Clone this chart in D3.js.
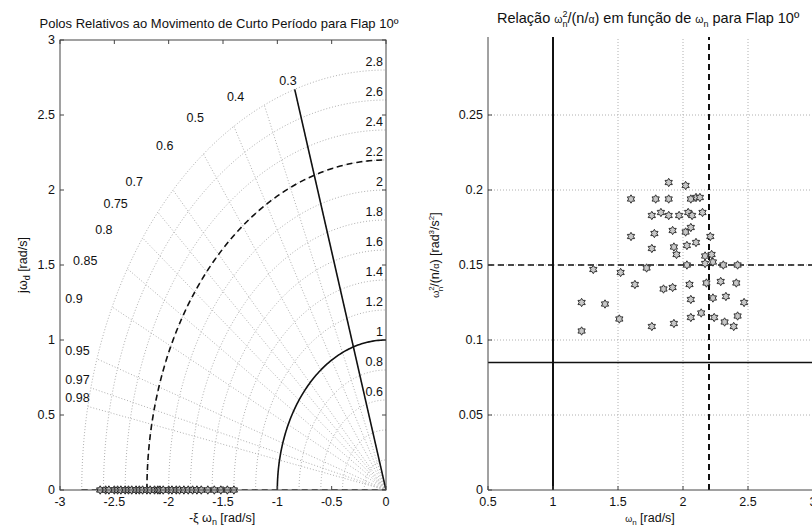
<!DOCTYPE html>
<html><head><meta charset="utf-8">
<script src="https://cdn.jsdelivr.net/npm/d3@7"></script>
<style>
body{margin:0;background:#fff;}
svg{display:block;font-family:"Liberation Sans",Arial,sans-serif;}
</style></head>
<body><svg id="c" width="812" height="530"></svg>
<script>
// ---------- data ----------
const leftTitle = "Polos Relativos ao Movimento de Curto Período para Flap 10º";
const zetaGrid = [0.3,0.4,0.5,0.6,0.7,0.75,0.8,0.85,0.9,0.95,0.97,0.98];
const wnGrid = [0.2,0.4,0.6,0.8,1,1.2,1.4,1.6,1.8,2,2.2,2.4,2.6,2.8];
const wnLabels = [0.6,0.8,1,1.2,1.4,1.6,1.8,2,2.2,2.4,2.6,2.8];
const leftXTicks = [-3,-2.5,-2,-1.5,-1,-0.5,0];
const leftYTicks = [0,0.5,1,1.5,2,2.5,3];
const zetaLimit = 0.3, zetaLimitWn = 2.8;
const wnMinSolid = 1, wnDashed = 2.2, realDashFrom = -2.8;
const realPoles = [-2.63,-2.58,-2.55,-2.5,-2.47,-2.44,-2.4,-2.37,-2.34,-2.3,-2.27,-2.24,-2.2,-2.17,-2.13,-2.1,-2.08,-2.05,-2.0,-1.97,-1.93,-1.9,-1.86,-1.82,-1.78,-1.74,-1.7,-1.64,-1.58,-1.52,-1.46,-1.4];

const rightXTicks = [0.5,1,1.5,2,2.5,3];
const rightYTicks = [0,0.05,0.1,0.15,0.2,0.25];
const wnRef = 1, wnRefDashed = 2.2, ratioDashed = 0.15, ratioSolid = 0.085;
const wn = [1.89,2.02,2.10,1.60,1.79,1.89,2.06,2.13,1.83,1.89,1.97,1.76,2.04,2.07,2.15,1.60,1.78,1.92,2.02,2.06,2.21,1.76,1.93,1.95,2.03,2.10,2.17,2.22,1.31,1.52,1.72,2.03,2.17,2.23,2.31,2.42,1.63,1.85,1.92,2.05,2.18,2.29,2.41,1.22,1.40,2.06,2.23,2.33,2.47,2.42,1.22,1.51,1.76,1.93,2.06,2.24,2.32,2.39,2.14];
const ratio = [0.205,0.203,0.195,0.194,0.194,0.194,0.194,0.195,0.185,0.183,0.183,0.183,0.185,0.183,0.185,0.169,0.171,0.173,0.172,0.175,0.169,0.161,0.162,0.157,0.163,0.165,0.156,0.157,0.147,0.145,0.148,0.150,0.151,0.152,0.150,0.150,0.137,0.134,0.135,0.137,0.138,0.139,0.138,0.125,0.124,0.127,0.128,0.129,0.125,0.116,0.106,0.114,0.109,0.111,0.115,0.115,0.112,0.109,0.118];

// ---------- setup ----------
const svg = d3.select("#c");
const xL = d3.scaleLinear().domain([-3,0]).range([60,386]);
const yL = d3.scaleLinear().domain([0,3]).range([490,40]);
const xR = d3.scaleLinear().domain([0.5,3]).range([488,813]);
const yR = d3.scaleLinear().domain([0,0.3]).range([490,40]);
const FS = 12.5, TXT = "#111";

function hexagram(r){
  const p=[];
  for(let i=0;i<12;i++){const a=-Math.PI/2+i*Math.PI/6;const rr=i%2===0?r:r*0.58;p.push([rr*Math.cos(a),rr*Math.sin(a)]);}
  return "M"+p.map(d=>d[0].toFixed(2)+","+d[1].toFixed(2)).join("L")+"Z";
}
const hex = hexagram(4.2);
const angles = d3.range(0,91,1).map(d=>d*Math.PI/180);
const arcLine = d3.line().x(d=>xL(d[0])).y(d=>yL(d[1]));
function arcPts(r){return angles.map(t=>[-r*Math.cos(t), r*Math.sin(t)]);}

// ---------- LEFT ----------
const L = svg.append("g");
L.append("defs").append("clipPath").attr("id","clipL").append("rect")
  .attr("x",60).attr("y",40).attr("width",326).attr("height",450);
const lg = L.append("g").attr("clip-path","url(#clipL)");
lg.selectAll("path.wn").data(wnGrid).join("path").attr("class","wn")
  .attr("d",d=>arcLine(arcPts(d))).attr("fill","none")
  .attr("stroke","#b0b0b0").attr("stroke-width",1).attr("stroke-dasharray","1,2");
lg.selectAll("line.z").data(zetaGrid).join("line").attr("class","z")
  .attr("x1",xL(0)).attr("y1",yL(0))
  .attr("x2",d=>xL(-d*2.8)).attr("y2",d=>yL(Math.sqrt(1-d*d)*2.8))
  .attr("stroke","#b0b0b0").attr("stroke-width",1).attr("stroke-dasharray","1,2");
lg.append("line").attr("x1",xL(0)).attr("y1",yL(0))
  .attr("x2",xL(-zetaLimit*zetaLimitWn)).attr("y2",yL(Math.sqrt(1-zetaLimit*zetaLimit)*zetaLimitWn))
  .attr("stroke","#111").attr("stroke-width",1.6);
lg.append("path").attr("d",arcLine(arcPts(wnMinSolid))).attr("fill","none").attr("stroke","#111").attr("stroke-width",1.6);
lg.append("path").attr("d",arcLine(arcPts(wnDashed))).attr("fill","none").attr("stroke","#111").attr("stroke-width",1.6).attr("stroke-dasharray","6,4");
lg.append("line").attr("x1",xL(realDashFrom)).attr("x2",xL(0)).attr("y1",yL(0)).attr("y2",yL(0))
  .attr("stroke","#333").attr("stroke-width",1.6).attr("stroke-dasharray","6,4");
L.selectAll("path.pole").data(realPoles).join("path").attr("class","pole")
  .attr("transform",d=>`translate(${xL(d)},${yL(0)})`).attr("d",hex)
  .attr("fill","#bbb").attr("stroke","#222").attr("stroke-width",1);
L.selectAll("text.wnl").data(wnLabels).join("text").attr("class","wnl")
  .attr("x",xL(0)-3).attr("y",d=>yL(d)-4).attr("text-anchor","end")
  .attr("font-size",FS).attr("fill",TXT).text(d=>d);
L.selectAll("text.zl").data(zetaGrid).join("text").attr("class","zl")
  .attr("x",d=>Math.max(xL(-d*2.8)-(d<=0.3?-2:d<=0.4?20:30), 62+(String(d).length*6.9)))
  .attr("y",d=>yL(Math.sqrt(1-d*d)*2.8)-4).attr("text-anchor","end")
  .attr("font-size",FS).attr("fill",TXT).text(d=>d);
L.append("rect").attr("x",60).attr("y",40).attr("width",326).attr("height",450).attr("fill","none").attr("stroke","#444").attr("stroke-width",1);
const axL = L.append("g");
leftXTicks.forEach(t=>{
  axL.append("line").attr("x1",xL(t)).attr("x2",xL(t)).attr("y1",490).attr("y2",486).attr("stroke","#444");
  axL.append("line").attr("x1",xL(t)).attr("x2",xL(t)).attr("y1",40).attr("y2",44).attr("stroke","#444");
  axL.append("text").attr("x",xL(t)).attr("y",506).attr("text-anchor","middle").attr("font-size",FS).attr("fill",TXT).text(t);
});
leftYTicks.forEach(t=>{
  axL.append("line").attr("x1",60).attr("x2",64).attr("y1",yL(t)).attr("y2",yL(t)).attr("stroke","#444");
  axL.append("line").attr("x1",386).attr("x2",382).attr("y1",yL(t)).attr("y2",yL(t)).attr("stroke","#444");
  axL.append("text").attr("x",55).attr("y",yL(t)+4).attr("text-anchor","end").attr("font-size",FS).attr("fill",TXT).text(t);
});
L.append("text").attr("x",219).attr("y",28).attr("text-anchor","middle").attr("font-size",13).attr("fill",TXT).text(leftTitle);
const xlabL = L.append("text").attr("x",222).attr("y",522).attr("text-anchor","middle").attr("font-size",FS).attr("fill",TXT);
xlabL.append("tspan").text("-ξ ω");
xlabL.append("tspan").attr("font-size",9).attr("dy",3).text("n");
xlabL.append("tspan").attr("dy",-3).text(" [rad/s]");
const ylabL = L.append("text").attr("transform","translate(27,265) rotate(-90)").attr("text-anchor","middle").attr("font-size",FS).attr("fill",TXT);
ylabL.append("tspan").text("jω");
ylabL.append("tspan").attr("font-size",9).attr("dy",3).text("d");
ylabL.append("tspan").attr("dy",-3).text(" [rad/s]");

// ---------- RIGHT ----------
const R = svg.append("g");
R.selectAll("line.gx").data(rightXTicks.filter(d=>d>0.5&&d<3)).join("line").attr("class","gx")
  .attr("x1",d=>xR(d)).attr("x2",d=>xR(d)).attr("y1",490).attr("y2",37)
  .attr("stroke","#b0b0b0").attr("stroke-dasharray","1,2");
R.selectAll("line.gy").data(rightYTicks.filter(d=>d>0)).join("line").attr("class","gy")
  .attr("x1",488).attr("x2",812).attr("y1",d=>yR(d)).attr("y2",d=>yR(d))
  .attr("stroke","#b0b0b0").attr("stroke-dasharray","1,2");
R.append("line").attr("x1",xR(wnRef)).attr("x2",xR(wnRef)).attr("y1",490).attr("y2",37).attr("stroke","#111").attr("stroke-width",2);
R.append("line").attr("x1",xR(wnRefDashed)).attr("x2",xR(wnRefDashed)).attr("y1",490).attr("y2",37).attr("stroke","#111").attr("stroke-width",2).attr("stroke-dasharray","6,4");
R.append("line").attr("x1",488).attr("x2",812).attr("y1",yR(ratioDashed)).attr("y2",yR(ratioDashed)).attr("stroke","#111").attr("stroke-width",1.6).attr("stroke-dasharray","6,4");
R.append("line").attr("x1",488).attr("x2",812).attr("y1",yR(ratioSolid)).attr("y2",yR(ratioSolid)).attr("stroke","#111").attr("stroke-width",1.6);
R.selectAll("path.pt").data(wn.map((d,i)=>[d,ratio[i]])).join("path").attr("class","pt")
  .attr("transform",d=>`translate(${xR(d[0])},${yR(d[1])})`).attr("d",hex)
  .attr("fill","#c8c8c8").attr("stroke","#333").attr("stroke-width",1);
R.append("line").attr("x1",488).attr("x2",488).attr("y1",37).attr("y2",490).attr("stroke","#444");
R.append("line").attr("x1",488).attr("x2",812).attr("y1",490).attr("y2",490).attr("stroke","#444");
rightXTicks.forEach(t=>{
  R.append("line").attr("x1",xR(t)).attr("x2",xR(t)).attr("y1",490).attr("y2",486).attr("stroke","#444");
  R.append("text").attr("x",xR(t)).attr("y",506).attr("text-anchor","middle").attr("font-size",FS).attr("fill",TXT).text(t);
});
rightYTicks.forEach(t=>{
  R.append("line").attr("x1",488).attr("x2",492).attr("y1",yR(t)).attr("y2",yR(t)).attr("stroke","#444");
  R.append("text").attr("x",483).attr("y",yR(t)+4).attr("text-anchor","end").attr("font-size",FS).attr("fill",TXT).text(t);
});
const tR = R.append("text").attr("x",497).attr("y",23).attr("text-anchor","start").attr("font-size",14.5).attr("fill",TXT);
tR.append("tspan").text("Relação ");
tR.append("tspan").attr("font-size",10.5).text("ω");
tR.append("tspan").attr("font-size",9).attr("dy",-6).text("2");
tR.append("tspan").attr("font-size",9).attr("dx",-5).attr("dy",10).text("n");
tR.append("tspan").attr("dy",-4).text("/(n/");
tR.append("tspan").attr("font-size",10.5).text("α");
tR.append("tspan").text(") em função de ");
tR.append("tspan").attr("font-size",10.5).text("ω");
tR.append("tspan").attr("font-size",9).attr("dy",4).text("n");
tR.append("tspan").attr("dy",-4).text(" para Flap 10º");
const xlabR = R.append("text").attr("x",650).attr("y",522).attr("text-anchor","middle").attr("font-size",FS).attr("fill",TXT);
xlabR.append("tspan").attr("font-size",9).text("ω");
xlabR.append("tspan").attr("font-size",8).attr("dy",3).text("n");
xlabR.append("tspan").attr("dy",-3).text(" [rad/s]");
const ylabR = R.append("text").attr("transform","translate(439,255) rotate(-90)").attr("text-anchor","middle").attr("font-size",FS).attr("fill",TXT);
ylabR.append("tspan").attr("font-size",9).text("ω");
ylabR.append("tspan").attr("font-size",8).attr("dy",-5).text("2");
ylabR.append("tspan").attr("font-size",8).attr("dx",-5).attr("dy",9).text("n");
ylabR.append("tspan").attr("dy",-4).text("/(n/");
ylabR.append("tspan").attr("font-size",9).text("α");
ylabR.append("tspan").text(") [rad");
ylabR.append("tspan").attr("font-size",8).attr("dy",-5).text("3");
ylabR.append("tspan").attr("dy",5).text("/s");
ylabR.append("tspan").attr("font-size",8).attr("dy",-5).text("2");
ylabR.append("tspan").attr("dy",5).text("]");
</script></body></html>
